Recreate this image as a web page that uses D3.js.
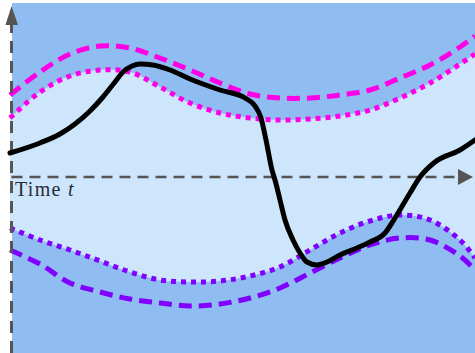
<!DOCTYPE html>
<html><head><meta charset="utf-8">
<script src="https://cdn.jsdelivr.net/npm/d3@7"></script>
<style>body{margin:0;background:#fff}svg{display:block}</style>
</head><body>
<script>
// shared time samples for the four bound curves (t units)
const tBounds = [0, 30, 60, 90, 120, 150, 180, 210, 240, 270, 300, 330, 360, 390, 420, 450, 465];
// values (positive = above time axis)
const upperDashed = [82, 105, 123, 131, 129, 119, 107, 94, 83, 79, 79, 82, 87, 99, 112, 130, 141];
const upperDotted = [59, 85, 101, 107, 105, 90, 74, 64, 59, 57, 58, 61, 67, 79, 94, 113, 123];
const lowerDotted = [-51, -63, -73, -84, -95, -103, -105, -104, -99, -90, -73, -56, -44, -38, -43, -63, -81];
const lowerDashed = [-73, -87, -106, -115, -122, -126, -129, -127, -121, -111, -96, -81, -68, -61, -63, -79, -93];
// trajectory
const tPath = [0, 30, 50, 65, 80, 93, 105, 113, 122, 130, 143, 160, 180, 210, 235, 245, 251, 256, 262, 265, 270, 275, 283, 290, 297, 307, 317, 330, 347, 360, 375, 385, 400, 410, 425, 450, 465];
const xPath = [24, 34, 43, 53, 66, 80, 95, 105, 111, 113, 112, 107, 98, 87, 79, 71, 59, 37, 7, -3, -23, -43, -63, -76, -85, -88, -85, -78, -71, -65, -56, -41, -16, 0, 15, 27, 37];
const axisLabel = "Time ";
const axisLabelVar = "t";

const W = 475, H = 353;
const svg = d3.select("body").append("svg").attr("width", W).attr("height", H);
const x = d3.scaleLinear().domain([0, 465]).range([10, 475]);
const y = d3.scaleLinear().domain([-173, 173]).range([350, 4]);

svg.append("rect").attr("x", x(2)).attr("y", y(174)).attr("width", W - x(2)).attr("height", H - y(174)).attr("fill", "#90bdf1");

const curve = d3.curveCatmullRom.alpha(0.5);
const bi = d3.range(tBounds.length);
svg.append("path").datum(bi)
  .attr("d", d3.area().curve(curve).x(i => x(tBounds[i])).y0(i => y(lowerDotted[i])).y1(i => y(upperDotted[i])))
  .attr("fill", "#cde6fc");

function boundLine(vals, color, dash) {
  svg.append("path").datum(bi)
    .attr("d", d3.line().curve(curve).x(i => x(tBounds[i])).y(i => y(vals[i])))
    .attr("fill", "none").attr("stroke", color).attr("stroke-width", 5)
    .attr("stroke-dasharray", dash);
}
boundLine(upperDashed, "#ff00e6", "13,7");
boundLine(upperDotted, "#ff00e6", "5,5");
boundLine(lowerDotted, "#8000ff", "5,5");
boundLine(lowerDashed, "#8000ff", "13,7");

// axes
const axisColor = "#555555";
svg.append("line").attr("x1", x(1.5)).attr("x2", x(1.5)).attr("y1", y(-176)).attr("y2", y(160))
  .attr("stroke", axisColor).attr("stroke-width", 3).attr("stroke-dasharray", "12,8");
svg.append("path").attr("d", `M${x(1.5)},${y(171)} L${x(-4.5)},${y(152)} L${x(8)},${y(152)} Z`).attr("fill", axisColor);
svg.append("line").attr("x1", x(1.5)).attr("x2", x(450)).attr("y1", y(0)).attr("y2", y(0))
  .attr("stroke", axisColor).attr("stroke-width", 2.5).attr("stroke-dasharray", "11,7");
svg.append("path").attr("d", `M${x(463)},${y(0)} L${x(448)},${y(8)} L${x(448)},${y(-8)} Z`).attr("fill", axisColor);

// trajectory
const pi = d3.range(tPath.length);
svg.append("path").datum(pi)
  .attr("d", d3.line().curve(d3.curveMonotoneX).x(i => x(tPath[i])).y(i => y(xPath[i])))
  .attr("fill", "none").attr("stroke", "#000").attr("stroke-width", 5).attr("stroke-linecap", "round").attr("stroke-linejoin", "round");

const txt = svg.append("text").attr("x", x(5)).attr("y", y(-18.5))
  .attr("font-family", "'Liberation Serif', 'DejaVu Serif', serif").attr("font-size", 20)
  .attr("fill", "#2a2a3a").attr("letter-spacing", 1.3);
txt.append("tspan").text(axisLabel);
txt.append("tspan").attr("font-style", "italic").text(axisLabelVar);
</script>
</body></html>
